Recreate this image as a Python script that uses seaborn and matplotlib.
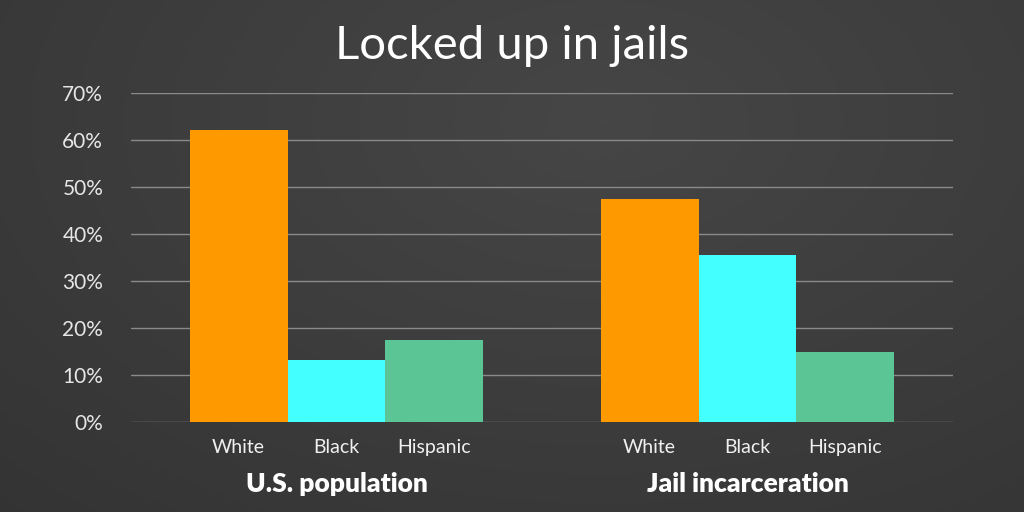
import numpy as np
import pandas as pd
import matplotlib
matplotlib.use("Agg")
import matplotlib.pyplot as plt
import matplotlib.transforms as mtransforms
import seaborn as sns

groups = ["U.S. population", "Jail incarceration"]
races = ["White", "Black", "Hispanic"]
us_population = [62.2, 13.2, 17.4]
jail_incarceration = [47.4, 35.5, 14.9]
yticks = [0, 10, 20, 30, 40, 50, 60, 70]
title = "Locked up in jails"

colors = ["#FF9900", "#44FFFF", "#5BC596"]

df = pd.DataFrame({
    "group": [groups[0]] * 3 + [groups[1]] * 3,
    "race": races * 2,
    "value": us_population + jail_incarceration,
})

sns.set_theme(style="dark")
plt.rcParams['font.family'] = ['Lato', 'DejaVu Sans']

fig = plt.figure(figsize=(10.24, 5.12), dpi=100)
fig.patch.set_facecolor("#3c3c3c")

# background radial gradient
bg = fig.add_axes([0, 0, 1, 1], zorder=-10)
yy, xx = np.mgrid[0:256, 0:512]
r = np.sqrt(((xx - 300) / 420.0) ** 2 + ((yy - 60) / 260.0) ** 2)
g = np.clip(0.275 - 0.07 * r, 0.19, 0.28)
img = np.dstack([g, g, g])
bg.imshow(img, aspect="auto", extent=[0, 1, 0, 1], interpolation="bilinear")
bg.set_axis_off()

ax = fig.add_axes([131 / 1024, 1 - 422 / 512, (953 - 131) / 1024, (422 - 93) / 512])
ax.set_facecolor("none")
sns.barplot(data=df, x="group", y="value", hue="race", hue_order=races,
            palette=colors, width=0.715, saturation=1, ax=ax, legend=False,
            edgecolor="none", linewidth=0, errorbar=None)

ax.set_ylim(0, 70)
ax.set_xlim(-0.5, 1.5)
ax.set_yticks(yticks)
ax.set_yticklabels([f"{t}%" for t in yticks], color="#e6e6e6", fontsize=15)
ax.tick_params(axis="y", length=0, pad=20)
ax.tick_params(axis="x", length=0, pad=36)
ax.set_xticks([0, 1])
ax.set_xticklabels(groups, color="white", fontsize=19, fontweight="heavy")
ax.set_xlabel("")
ax.set_ylabel("")
ax.grid(axis="y", color="#8a8a8a", linewidth=1)
ax.grid(axis="x", visible=False)
ax.set_axisbelow(True)
for s in ax.spines.values():
    s.set_visible(False)

trans = mtransforms.blended_transform_factory(ax.transData, ax.transAxes)
# label each bar with race name using the bar containers
for cont, race in zip(ax.containers, races):
    for p in cont.patches:
        ax.text(p.get_x() + p.get_width() / 2, -0.076, race, transform=trans,
                ha="center", va="center", color="#f0f0f0", fontsize=14)

fig.text(0.5, 1 - 46 / 512, title, ha="center", va="center", color="white",
         fontsize=34)

fig.savefig("out.png", dpi=100, facecolor=fig.get_facecolor())
